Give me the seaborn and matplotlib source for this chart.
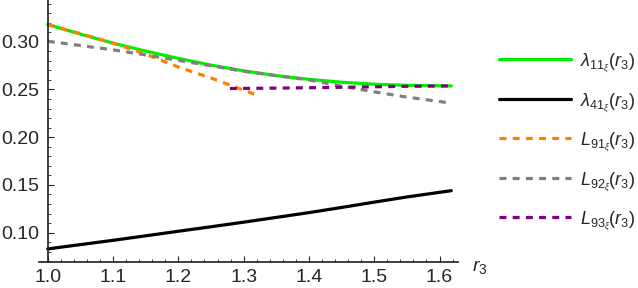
import pandas as pd
import seaborn as sns
import matplotlib.pyplot as plt
from matplotlib.ticker import MultipleLocator

# valores
r3 = [1.0, 1.05, 1.1, 1.15, 1.2, 1.25, 1.3, 1.35, 1.4, 1.45, 1.5, 1.55, 1.618]
lam11 = [0.318, 0.308, 0.2985, 0.2902, 0.2825, 0.2755, 0.2695, 0.2645, 0.2606, 0.2576, 0.2555, 0.2543, 0.2537]
lam41 = [0.083, 0.0875, 0.092, 0.0967, 0.1015, 0.1062, 0.111, 0.116, 0.121, 0.1264, 0.132, 0.1374, 0.144]
L92 = [0.3005, 0.296, 0.2915, 0.2862, 0.2805, 0.2748, 0.2690, 0.2645, 0.2600, 0.2535, 0.2475, 0.2420, 0.2357]

r3_L91 = [1.0, 1.05, 1.1, 1.15, 1.2, 1.25, 1.3175]
L91 = [0.318, 0.3085, 0.2985, 0.2870, 0.2735, 0.2620, 0.2449]

r3_L93 = [1.279, 1.35, 1.4, 1.45, 1.5, 1.55, 1.618]
L93 = [0.2510, 0.2514, 0.2518, 0.2523, 0.2528, 0.2533, 0.2537]

labels = [r"$\lambda_{11_\xi}(r_3)$", r"$\lambda_{41_\xi}(r_3)$",
          r"$L_{91_\xi}(r_3)$", r"$L_{92_\xi}(r_3)$", r"$L_{93_\xi}(r_3)$"]

sns.set_theme(style="ticks")
plt.rcParams["font.family"] = ["Liberation Sans", "DejaVu Sans"]
plt.rcParams["mathtext.fontset"] = "custom"
plt.rcParams["mathtext.rm"] = "Liberation Sans"
plt.rcParams["mathtext.it"] = "Liberation Sans:italic"
plt.rcParams["lines.scale_dashes"] = False

fig = plt.figure(figsize=(6.38, 2.88), dpi=100)
ax = fig.add_axes([0.0616, 0.0913, 0.6563, 0.9087])

dash = (0, (5, 4.5))
lw = 2.3
sns.lineplot(x=r3, y=lam11, ax=ax, color="#00ee00", lw=lw, label=labels[0])
sns.lineplot(x=r3, y=lam41, ax=ax, color="black", lw=lw, label=labels[1])
sns.lineplot(x=r3_L91, y=L91, ax=ax, color="#ff8000", lw=lw, linestyle=dash, label=labels[2])
sns.lineplot(x=r3, y=L92, ax=ax, color="#808080", lw=lw, linestyle=dash, label=labels[3])
sns.lineplot(x=r3_L93, y=L93, ax=ax, color="#800080", lw=lw, linestyle=dash, label=labels[4])

ax.set_xlim(0.9871, 1.6283)
ax.set_ylim(0.0696, 0.3437)
ax.spines["left"].set_position(("data", 1.0))
ax.spines["right"].set_visible(False)
ax.spines["top"].set_visible(False)
ax.xaxis.set_major_locator(MultipleLocator(0.1))
ax.xaxis.set_minor_locator(MultipleLocator(0.02))
ax.yaxis.set_major_locator(MultipleLocator(0.05))
ax.yaxis.set_minor_locator(MultipleLocator(0.01))
ax.xaxis.set_major_formatter(lambda v, p: f"{v:.1f}")
ax.yaxis.set_major_formatter(lambda v, p: f"{v:.2f}")
ax.tick_params(which="major", direction="in", length=4, width=0.8, labelsize=14)
ax.tick_params(axis="x", which="major", pad=5)
ax.tick_params(axis="y", which="major", pad=6)
ax.tick_params(which="minor", direction="in", length=2.2, width=0.6)
ax.set_xlabel("")
ax.set_ylabel("")

fig.text(480 / 638, 1 - 267 / 288, r"$r_3$", fontsize=14, ha="center", va="center")

ax.legend(loc="upper left", bbox_to_anchor=(1.059, 0.867), frameon=False,
          fontsize=13, handlelength=4.0, handletextpad=0.5, labelspacing=0.92)

fig.savefig("out.png", dpi=100)
